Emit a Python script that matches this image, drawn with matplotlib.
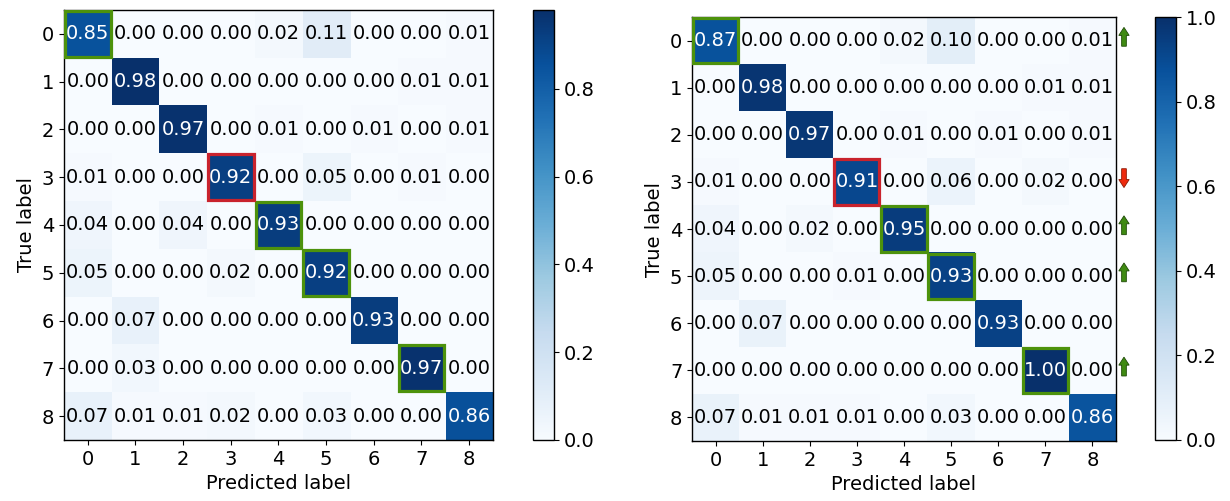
import numpy as np
import matplotlib
matplotlib.use("Agg")
import matplotlib.pyplot as plt
from matplotlib.patches import Rectangle, FancyArrow

labels = [str(i) for i in range(9)]

cm_left = np.array([
    [0.85, 0.00, 0.00, 0.00, 0.02, 0.11, 0.00, 0.00, 0.01],
    [0.00, 0.98, 0.00, 0.00, 0.00, 0.00, 0.00, 0.01, 0.01],
    [0.00, 0.00, 0.97, 0.00, 0.01, 0.00, 0.01, 0.00, 0.01],
    [0.01, 0.00, 0.00, 0.92, 0.00, 0.05, 0.00, 0.01, 0.00],
    [0.04, 0.00, 0.04, 0.00, 0.93, 0.00, 0.00, 0.00, 0.00],
    [0.05, 0.00, 0.00, 0.02, 0.00, 0.92, 0.00, 0.00, 0.00],
    [0.00, 0.07, 0.00, 0.00, 0.00, 0.00, 0.93, 0.00, 0.00],
    [0.00, 0.03, 0.00, 0.00, 0.00, 0.00, 0.00, 0.97, 0.00],
    [0.07, 0.01, 0.01, 0.02, 0.00, 0.03, 0.00, 0.00, 0.86],
])

cm_right = np.array([
    [0.87, 0.00, 0.00, 0.00, 0.02, 0.10, 0.00, 0.00, 0.01],
    [0.00, 0.98, 0.00, 0.00, 0.00, 0.00, 0.00, 0.01, 0.01],
    [0.00, 0.00, 0.97, 0.00, 0.01, 0.00, 0.01, 0.00, 0.01],
    [0.01, 0.00, 0.00, 0.91, 0.00, 0.06, 0.00, 0.02, 0.00],
    [0.04, 0.00, 0.02, 0.00, 0.95, 0.00, 0.00, 0.00, 0.00],
    [0.05, 0.00, 0.00, 0.01, 0.00, 0.93, 0.00, 0.00, 0.00],
    [0.00, 0.07, 0.00, 0.00, 0.00, 0.00, 0.93, 0.00, 0.00],
    [0.00, 0.00, 0.00, 0.00, 0.00, 0.00, 0.00, 1.00, 0.00],
    [0.07, 0.01, 0.01, 0.01, 0.00, 0.03, 0.00, 0.00, 0.86],
])

green_cells = [0, 4, 5, 7]
red_cells = [3]
up_rows = [0, 4, 5, 7]
down_rows = [3]

GREEN = "#4d920c"
RED = "#c9232d"
ARROW_GREEN = "#3f8a12"
ARROW_RED = "#ee2a0e"

fig = plt.figure(figsize=(12.3, 5.01), dpi=100)
FS = 14


def draw(ax, cax, cm):
    vmax = cm.max()
    im = ax.imshow(cm, cmap="Blues", vmin=0, vmax=vmax, aspect="auto",
                   interpolation="nearest")
    thresh = vmax / 2.0
    n = cm.shape[0]
    for i in range(n):
        for j in range(n):
            ax.text(j, i, f"{cm[i, j]:.2f}", ha="center", va="center",
                    fontsize=FS, color="white" if cm[i, j] > thresh else "black")
    ax.set_xticks(range(n))
    ax.set_yticks(range(n))
    ax.set_xticklabels(labels, fontsize=FS)
    ax.set_yticklabels(labels, fontsize=FS)
    ax.set_xlabel("Predicted label", fontsize=FS)
    ax.set_ylabel("True label", fontsize=FS)
    for k in green_cells:
        ax.add_patch(Rectangle((k - 0.5 + 0.02, k - 0.5 + 0.02), 0.96, 0.96,
                               fill=False, edgecolor=GREEN, lw=2.3, zorder=5))
    for k in red_cells:
        ax.add_patch(Rectangle((k - 0.5 + 0.02, k - 0.5 + 0.02), 0.96, 0.96,
                               fill=False, edgecolor=RED, lw=2.3, zorder=5))
    for s in ax.spines.values():
        s.set_linewidth(1.0)
    cb = fig.colorbar(im, cax=cax)
    cb.ax.tick_params(labelsize=FS)
    cb.outline.set_linewidth(1.0)
    return cb


ax1 = fig.add_axes([0.052, 0.1218, 0.3488, 0.8582])
cax1 = fig.add_axes([0.4333, 0.1218, 0.0171, 0.8582])
cb1 = draw(ax1, cax1, cm_left)
cb1.set_ticks([0.0, 0.2, 0.4, 0.6, 0.8])

ax2 = fig.add_axes([0.5626, 0.1198, 0.3447, 0.8462])
cax2 = fig.add_axes([0.939, 0.1218, 0.0171, 0.8442])
cb2 = draw(ax2, cax2, cm_right)
cb2.set_ticks([0.0, 0.2, 0.4, 0.6, 0.8, 1.0])

ax_x = 8.67
for r in up_rows:
    ax2.add_patch(FancyArrow(ax_x, r + 0.12, 0, -0.40, width=0.10,
                             head_width=0.22, head_length=0.17,
                             length_includes_head=True, clip_on=False,
                             facecolor=ARROW_GREEN, edgecolor="#1f4a08", lw=0.6))
for r in down_rows:
    ax2.add_patch(FancyArrow(ax_x, r - 0.28, 0, 0.40, width=0.10,
                             head_width=0.22, head_length=0.17,
                             length_includes_head=True, clip_on=False,
                             facecolor=ARROW_RED, edgecolor="#8a1a06", lw=0.6))

fig.savefig("out.png", dpi=100)
